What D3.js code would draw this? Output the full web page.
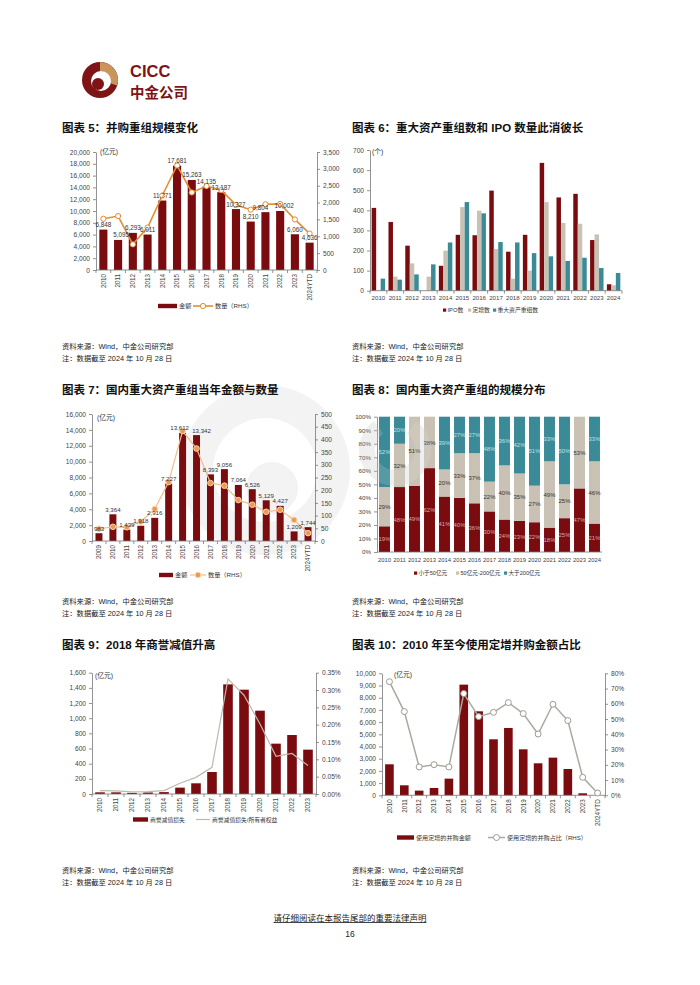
<!DOCTYPE html>
<html><head><meta charset="utf-8">
<script src="https://cdn.jsdelivr.net/npm/d3@7"></script>
<style>body{margin:0;background:#fff}svg{display:block}</style>
</head><body>
<script>
// ---------------- DATA ----------------
const years5 = ['2010','2011','2012','2013','2014','2015','2016','2017','2018','2019','2020','2021','2022','2023','2024YTD'];
const amount5 = [6848,5095,6293,6011,11771,17681,15263,14135,13187,10327,8210,9804,10002,6060,4636];
const count5  = [1520,1600,760,1260,2210,3100,2300,2490,2370,1930,1790,1950,1960,1500,1080];

const years6 = ['2010','2011','2012','2013','2014','2015','2016','2017','2018','2019','2020','2021','2022','2023','2024'];
const ipo6 = [412,342,224,0,124,278,276,498,194,278,636,464,482,252,32];
const placement6 = [3,70,136,70,199,416,398,207,60,100,441,337,333,280,27];
const restructure6 = [60,55,81,131,240,441,385,242,240,187,171,148,164,113,88];
const series6 = ['IPO数','定增数','重大资产重组数'];

const years7 = ['2009','2010','2011','2012','2013','2014','2015','2016','2017','2018','2019','2020','2021','2022','2023','2024YTD'];
const amount7 = [983,3364,1439,1918,2916,7227,13612,13342,8393,9056,7064,6526,5129,4427,1209,1744];
const count7  = [48,56,54,76,126,232,433,364,228,218,161,143,115,123,83,31];

const years8 = ['2010','2011','2012','2013','2014','2015','2016','2017','2018','2019','2020','2021','2022','2023','2024'];
const small8 = [19,48,49,62,41,40,36,30,24,23,22,18,25,47,21];
const mid8   = [29,32,51,38,20,33,37,22,40,35,27,49,25,53,46];
const large8 = [52,20,0,0,39,27,27,48,36,42,51,33,50,0,33];
const series8 = ['小于50亿元','50亿元-200亿元','大于200亿元'];

const years9 = ['2010','2011','2012','2013','2014','2015','2016','2017','2018','2019','2020','2021','2022','2023'];
const goodwill9 = [22,22,15,20,25,84,141,290,1446,1376,1099,664,778,585];
const ratio9 = [0.0001,0.00009,0.00006,0.00007,0.0001,0.00031,0.00048,0.00077,0.00332,0.00285,0.00202,0.00109,0.00117,0.00082];

const years10 = ['2010','2011','2012','2013','2014','2015','2016','2017','2018','2019','2020','2021','2022','2023','2024YTD'];
const amount10 = [2541,820,383,601,1366,9071,6885,4590,5519,3770,2623,3087,2158,164,0];
const ratio10 = [0.745,0.549,0.186,0.201,0.186,0.667,0.516,0.544,0.608,0.536,0.402,0.597,0.49,0.118,0.015];

// ---------------- SETUP ----------------
const FONT = '"Liberation Sans", Arial, "Noto Sans CJK SC", sans-serif';
const RED = '#7A0C10', BEIGE = '#C9C2B4', TEAL = '#3A8B97';
const svg = d3.select('body').append('svg').attr('width',700).attr('height',985)
  .style('font-family',FONT);
svg.append('rect').attr('width',700).attr('height',985).attr('fill','#fff');

function txt(g,x,y,s,o={}){
  return g.append('text').attr('x',x).attr('y',y).text(s)
    .attr('font-size',o.size||7).attr('fill',o.fill||'#333')
    .attr('font-weight',o.weight||'normal').attr('text-anchor',o.anchor||'start');
}
function styleAxis(a){
  a.selectAll('path,line').attr('stroke','#777').attr('stroke-width',0.8);
  a.selectAll('text').attr('fill','#444').attr('font-size',6.6).attr('font-family',FONT);
}

// ---------------- LOGO ----------------
const logo = svg.append('g').attr('transform','translate(100,80)');
logo.append('circle').attr('r',18).attr('fill','#7E1416');
logo.append('path').attr('d',d3.arc()({innerRadius:9,outerRadius:18,startAngle:0,endAngle:Math.PI*0.6})).attr('fill','#C9955C');
logo.append('circle').attr('cx',1).attr('cy',1).attr('r',10).attr('fill','#fff');
logo.append('circle').attr('cx',-2).attr('cy',4).attr('r',6).attr('fill','#7E1416');
txt(svg,130,77,'CICC',{size:16.5,weight:'bold',fill:'#7E1416'});
txt(svg,130,98,'中金公司',{size:14.5,weight:'bold',fill:'#7E1416'}).attr('font-family','"Noto Sans CJK SC", sans-serif');

// ---------------- WATERMARK ----------------
function watermark(){
  const w = svg.append('g').attr('opacity',0.2).attr('pointer-events','none');
  w.append('path').attr('transform','translate(265,470)')
    .attr('d',d3.arc()({innerRadius:52,outerRadius:85,startAngle:0,endAngle:2*Math.PI})).attr('fill','#c8c8c8');
  w.append('circle').attr('cx',272).attr('cy',488).attr('r',26).attr('fill','#c8c8c8');
  w.append('path').attr('transform','translate(395,450)')
    .attr('d',d3.arc()({innerRadius:20,outerRadius:36,startAngle:Math.PI*0.2,endAngle:Math.PI*1.8})).attr('fill','#c8c8c8');
}

// ---------------- GENERIC DUAL CHART ----------------
function dual(c){
  const g = svg.append('g');
  const x = d3.scaleBand().domain(c.cats).range([c.x0,c.x1]).paddingInner(c.pad).paddingOuter(c.pad/2);
  const yl = d3.scaleLinear().domain([0,c.lMax]).range([c.yBot,c.yTop]);
  const yr = d3.scaleLinear().domain([0,c.rMax]).range([c.yBot,c.yTop]);
  const la = g.append('g').attr('transform',`translate(${c.x0},0)`)
    .call(d3.axisLeft(yl).tickValues(d3.range(0,c.lMax+c.lStep/2,c.lStep)).tickFormat(c.lFmt).tickSize(3).tickSizeOuter(0).tickPadding(3));
  styleAxis(la);
  const ra = g.append('g').attr('transform',`translate(${c.x1},0)`)
    .call(d3.axisRight(yr).tickValues(d3.range(0,c.rMax+c.rStep/2,c.rStep)).tickFormat(c.rFmt).tickSize(3).tickSizeOuter(0).tickPadding(3));
  styleAxis(ra);
  g.selectAll('rect.b').data(c.bars).join('rect')
    .attr('x',(d,i)=>x(c.cats[i])).attr('width',x.bandwidth())
    .attr('y',d=>yl(d)).attr('height',d=>c.yBot-yl(d)).attr('fill',RED);
  g.append('line').attr('x1',c.x0).attr('x2',c.x1).attr('y1',c.yBot).attr('y2',c.yBot).attr('stroke','#777').attr('stroke-width',0.8);
  const step = x.step();
  d3.range(c.cats.length+1).forEach(i=>{
    g.append('line').attr('x1',c.x0+i*step).attr('x2',c.x0+i*step).attr('y1',c.yBot).attr('y2',c.yBot+3).attr('stroke','#777').attr('stroke-width',0.8);
  });
  c.cats.forEach(cat=>{
    const cx = x(cat)+x.bandwidth()/2;
    g.append('text').attr('transform',`translate(${cx+2.3},${c.yBot+4}) rotate(-90)`)
      .attr('text-anchor','end').attr('font-size',6.3).attr('fill','#444').text(cat);
  });
  const pts = c.line.map((v,i)=>[x(c.cats[i])+x.bandwidth()/2, yr(v)]);
  g.append('path').attr('d',d3.line()(pts)).attr('fill','none').attr('stroke',c.lineColor).attr('stroke-width',c.lineWidth);
  if(c.marker){
    g.selectAll('circle.m').data(pts).join('circle').attr('cx',d=>d[0]).attr('cy',d=>d[1]).attr('r',c.marker.r)
      .attr('fill',c.marker.fill).attr('stroke',c.marker.stroke).attr('stroke-width',c.marker.sw);
  }
  if(c.barLabels){
    const nudge = c.nudge||{};
    c.bars.forEach((v,i)=>{
      txt(g,x(c.cats[i])+x.bandwidth()/2+(nudge[c.cats[i]]||0),yl(v)-2.5,d3.format(',')(v),{size:c.labelSize,anchor:'middle',fill:'#333'});
    });
  }
  txt(g,c.unit[0],c.unit[1],'(亿元)',{size:6.8,fill:'#333'});
  const L = c.legend;
  g.append('rect').attr('x',L.x).attr('y',L.y-2.2).attr('width',L.bw).attr('height',4.4).attr('fill',RED);
  txt(g,L.x+L.bw+2,L.y+2.1,L.t1,{size:L.fs,fill:'#333'});
  const lx = L.x2;
  g.append('line').attr('x1',lx).attr('x2',lx+L.lw).attr('y1',L.y).attr('y2',L.y).attr('stroke',c.lineColor).attr('stroke-width',c.lineWidth);
  if(c.marker) g.append('circle').attr('cx',lx+L.lw/2).attr('cy',L.y).attr('r',c.marker.r)
      .attr('fill',c.marker.fill).attr('stroke',c.marker.stroke).attr('stroke-width',c.marker.sw);
  txt(g,lx+L.lw+2,L.y+2.1,L.t2,{size:L.fs,fill:'#333'});
  return g;
}

// ---------------- CHART 5 ----------------
dual({x0:96,x1:317,yTop:152,yBot:270,cats:years5,bars:amount5,line:count5,
  lMax:20000,lStep:2000,lFmt:d3.format(','),rMax:3500,rStep:500,rFmt:d3.format(','),
  pad:0.45,lineColor:'#E58C35',lineWidth:1.6,marker:{r:2.6,fill:'#fff',stroke:'#E58C35',sw:1},
  barLabels:true,labelSize:6.3,unit:[100,154],nudge:{'2011':3,'2021':-5,'2022':4},
  legend:{x:158,y:306,bw:19,t1:'金额',x2:193,lw:20,t2:'数量（RHS）',fs:6.2}});

// ---------------- CHART 7 ----------------
watermark();
dual({x0:92,x1:315,yTop:414,yBot:541,cats:years7,bars:amount7,line:count7,
  lMax:16000,lStep:2000,lFmt:d3.format(','),rMax:500,rStep:50,rFmt:d3.format(','),
  pad:0.5,lineColor:'#F3BC8C',lineWidth:1.2,marker:{r:2.8,fill:'#EE9A4A',stroke:'#F8D3AE',sw:1},
  barLabels:true,labelSize:6.1,unit:[97,420],nudge:{'2015':-3,'2016':5},
  legend:{x:159,y:575,bw:14,t1:'金额',x2:190,lw:16,t2:'数量（RHS）',fs:6.2}});

// ---------------- CHART 9 ----------------
dual({x0:92,x1:316,yTop:672.7,yBot:794,cats:years9,bars:goodwill9,line:ratio9,
  lMax:1600,lStep:200,lFmt:d3.format(','),rMax:0.0035,rStep:0.0005,rFmt:d3.format('.2%'),
  pad:0.4,lineColor:'#BFB8AE',lineWidth:1.2,marker:null,
  barLabels:false,unit:[95,678],
  legend:{x:133,y:819.5,bw:15,t1:'商誉减值损失',x2:196,lw:14,t2:'商誉减值损失/所有者权益',fs:5.8}});

// ---------------- CHART 10 ----------------
dual({x0:382,x1:605,yTop:673.3,yBot:795.3,cats:years10,bars:amount10,line:ratio10,
  lMax:10000,lStep:1000,lFmt:d3.format(','),rMax:0.8,rStep:0.1,rFmt:d3.format('.0%'),
  pad:0.42,lineColor:'#AAA9A1',lineWidth:1.5,marker:{r:3,fill:'#fff',stroke:'#9C9B93',sw:1},
  barLabels:false,unit:[394,677],
  legend:{x:397,y:837.5,bw:17,t1:'使用定增的并购金额',x2:488,lw:17,t2:'使用定增的并购占比（RHS）',fs:6.1}});

// ---------------- CHART 6 ----------------
(function(){
  const x0=370,x1=622,yTop=150,yBot=290.7;
  const g = svg.append('g');
  const x = d3.scaleBand().domain(years6).range([x0,x1]).paddingInner(0.2).paddingOuter(0.1);
  const xs = d3.scaleBand().domain(series6).range([0,x.bandwidth()]);
  const y = d3.scaleLinear().domain([0,700]).range([yBot,yTop]);
  const ax = g.append('g').attr('transform',`translate(${x0},0)`)
    .call(d3.axisLeft(y).tickValues(d3.range(0,701,100)).tickSize(3).tickSizeOuter(0).tickPadding(3));
  styleAxis(ax);
  const data = [ipo6,placement6,restructure6], cols=[RED,BEIGE,TEAL];
  data.forEach((arr,k)=>{
    g.selectAll(null).data(arr).join('rect')
      .attr('x',(d,i)=>x(years6[i])+xs(series6[k])).attr('width',xs.bandwidth())
      .attr('y',d=>y(d)).attr('height',d=>yBot-y(d)).attr('fill',cols[k]);
  });
  g.append('line').attr('x1',x0).attr('x2',x1).attr('y1',yBot).attr('y2',yBot).attr('stroke','#777').attr('stroke-width',0.8);
  const step=x.step();
  d3.range(years6.length+1).forEach(i=>g.append('line').attr('x1',x0+i*step).attr('x2',x0+i*step).attr('y1',yBot).attr('y2',yBot+3).attr('stroke','#777').attr('stroke-width',0.8));
  years6.forEach(c=>txt(g,x(c)+x.bandwidth()/2,yBot+9,c,{size:6.1,anchor:'middle',fill:'#444'}));
  txt(g,372,154,'(个)',{size:6.8});
  const lx=[443,468,493];
  series6.forEach((s,k)=>{
    g.append('rect').attr('x',lx[k]).attr('y',308.5).attr('width',3.2).attr('height',3.2).attr('fill',cols[k]);
    txt(g,lx[k]+4.5,312.3,s,{size:5.8,fill:'#333'});
  });
})();

// ---------------- CHART 8 ----------------
(function(){
  const x0=377,x1=602,yTop=416.7,yBot=552;
  const g = svg.append('g');
  const x = d3.scaleBand().domain(years8).range([x0,x1]).paddingInner(0.27).paddingOuter(0.135);
  const y = d3.scaleLinear().domain([0,100]).range([yBot,yTop]);
  const ax = g.append('g').attr('transform',`translate(${x0},0)`)
    .call(d3.axisLeft(y).tickValues(d3.range(0,101,10)).tickFormat(d=>d+'%').tickSize(3).tickSizeOuter(0).tickPadding(3));
  styleAxis(ax);
  ax.selectAll('text').attr('font-size',6.2);
  const rows = years8.map((yr,i)=>({yr,s:small8[i],m:mid8[i],l:large8[i]}));
  const stack = d3.stack().keys(['s','m','l'])(rows);
  const cols=[RED,BEIGE,TEAL], lab=['#D9A7A7','#333','#BFE0E4'];
  stack.forEach((layer,k)=>{
    layer.forEach((d,i)=>{
      const v = d[1]-d[0];
      if(v<=0) return;
      const top = Math.min(d[1],100);
      g.append('rect').attr('x',x(years8[i])).attr('width',x.bandwidth())
        .attr('y',y(top)).attr('height',y(d[0])-y(top)).attr('fill',cols[k]);
      txt(g,x(years8[i])+x.bandwidth()/2,y((d[0]+top)/2)+2.2,v+'%',{size:5.9,anchor:'middle',fill:lab[k]});
    });
  });
  const w = g.append('g').attr('opacity',0.18).attr('pointer-events','none');
  w.append('path').attr('transform','translate(395,450)')
    .attr('d',d3.arc()({innerRadius:20,outerRadius:36,startAngle:Math.PI*0.2,endAngle:Math.PI*1.8})).attr('fill','#e0e0e0');
  g.append('line').attr('x1',x0).attr('x2',x1).attr('y1',yBot).attr('y2',yBot).attr('stroke','#777').attr('stroke-width',0.8);
  years8.forEach(c=>txt(g,x(c)+x.bandwidth()/2,yBot+9.5,c,{size:5.9,anchor:'middle',fill:'#444'}));
  const lx=[414,456,504];
  series8.forEach((s,k)=>{
    g.append('rect').attr('x',lx[k]).attr('y',571.5).attr('width',3.2).attr('height',3.2).attr('fill',cols[k]);
    txt(g,lx[k]+4.5,575.3,s,{size:5.6,fill:'#333'});
  });
})();

// ---------------- TITLES & NOTES ----------------
const titles = [
  [62,132,'图表 5：并购重组规模变化'],[352,132,'图表 6：重大资产重组数和 IPO 数量此消彼长'],
  [62,394,'图表 7：国内重大资产重组当年金额与数量'],[352,394,'图表 8：国内重大资产重组的规模分布'],
  [62,649,'图表 9：2018 年商誉减值升高'],[352,649,'图表 10：2010 年至今使用定增并购金额占比']];
titles.forEach(t=>txt(svg,t[0],t[1],t[2],{size:11.5,weight:'bold',fill:'#111'}));
const noteRows=[349,604,873];
noteRows.forEach(yy=>{
  [62,352].forEach(xx=>{
    txt(svg,xx,yy,'资料来源：Wind，中金公司研究部',{size:7.3,fill:'#222'});
    txt(svg,xx,yy+12,'注：数据截至 2024 年 10 月 28 日',{size:7.3,fill:'#222'});
  });
});
txt(svg,350,921,'请仔细阅读在本报告尾部的重要法律声明',{size:8.5,anchor:'middle',fill:'#222'}).attr('text-decoration','underline');
txt(svg,350,937,'16',{size:8.5,anchor:'middle',fill:'#222'});
</script>
</body></html>
